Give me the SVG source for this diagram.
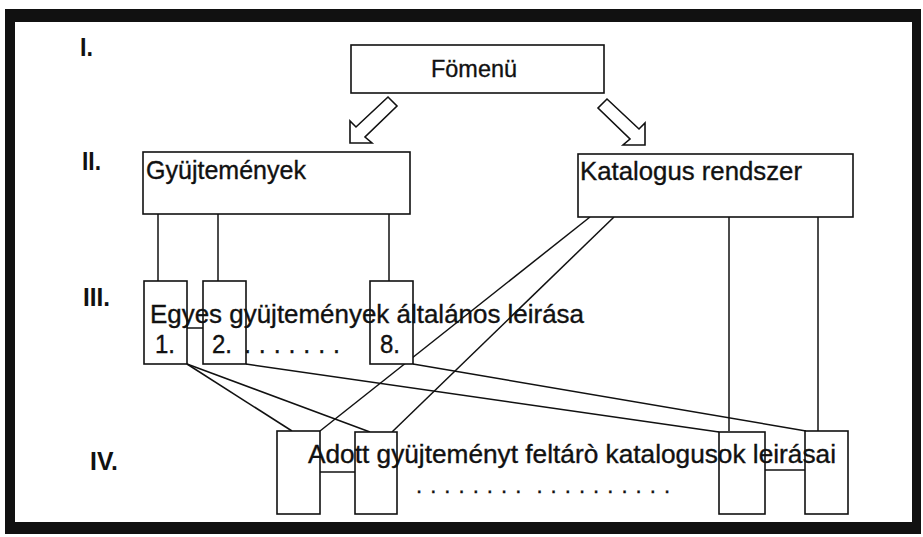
<svg xmlns="http://www.w3.org/2000/svg" width="923" height="537" viewBox="0 0 923 537">
<style>
.box{fill:#fff;stroke:#111;stroke-width:1.6}
.ln{fill:none;stroke:#111;stroke-width:1.5}
.arr{fill:#fff;stroke:#111;stroke-width:1.6;stroke-linejoin:miter}
.t{font-family:"Liberation Sans",Arial,sans-serif;fill:#111;stroke:#111;stroke-width:0.35}
.rn{font-family:"Liberation Sans",Arial,sans-serif;font-weight:bold;font-size:25px;fill:#111}
.pre{white-space:pre}
</style>
<rect width="923" height="537" fill="#fff"/>
<path d="M5,9H921V534H5Z M15,22V522H912V22Z" fill="#111" fill-rule="evenodd"/>
<g id="levels">
<text class="rn" x="80" y="56" textLength="13" lengthAdjust="spacingAndGlyphs">I.</text>
<text class="rn" x="82" y="170" textLength="19" lengthAdjust="spacingAndGlyphs">II.</text>
<text class="rn" x="83" y="306" textLength="27" lengthAdjust="spacingAndGlyphs">III.</text>
<text class="rn" x="90" y="470" textLength="28" lengthAdjust="spacingAndGlyphs">IV.</text>
</g>
<g id="connectors">
<polygon class="arr" points="350,143 350,121 356,127 388,97 397,106 365,137 372,143"/>
<polygon class="arr" points="645,145 645,123 639,129 607,99 598,108 630,139 623,145"/>
<line class="ln" x1="158" y1="214" x2="158" y2="281"/>
<line class="ln" x1="218" y1="214" x2="218" y2="281"/>
<line class="ln" x1="389" y1="214" x2="389" y2="281"/>
<line class="ln" x1="729" y1="217" x2="729" y2="431"/>
<line class="ln" x1="818" y1="217" x2="818" y2="431"/>
<line class="ln" x1="590" y1="217" x2="320" y2="431"/>
<line class="ln" x1="614" y1="217" x2="392" y2="432"/>
<line class="ln" x1="187" y1="364" x2="292" y2="431"/>
<line class="ln" x1="187" y1="364" x2="370" y2="432"/>
<line class="ln" x1="246" y1="364" x2="719" y2="432"/>
<line class="ln" x1="413" y1="364" x2="806" y2="431"/>
<line class="ln" x1="187" y1="328" x2="203" y2="328"/>
<line class="ln" x1="320" y1="472" x2="355" y2="472"/>
<line class="ln" x1="765" y1="470" x2="805" y2="470"/>
</g>
<g id="fomenu">
<rect class="box" x="351" y="45" width="253" height="48"/>
<text class="t" x="431" y="77" font-size="24" textLength="86" lengthAdjust="spacingAndGlyphs">Fömenü</text>
</g>
<g id="gyujtemenyek">
<rect class="box" x="143" y="152" width="267" height="62"/>
<text class="t" x="146" y="179" font-size="25" textLength="160" lengthAdjust="spacingAndGlyphs">Gyüjtemények</text>
</g>
<g id="katalogus">
<rect class="box" x="578" y="154" width="275" height="63"/>
<text class="t" x="580" y="180" font-size="25" textLength="222" lengthAdjust="spacingAndGlyphs">Katalogus rendszer</text>
</g>
<g id="gy1"><rect class="box" x="144" y="281" width="43" height="83"/></g>
<g id="gy2"><rect class="box" x="203" y="281" width="43" height="83"/></g>
<g id="gy8"><rect class="box" x="370" y="281" width="43" height="83"/></g>
<g id="kat1"><rect class="box" x="277" y="431" width="43" height="83"/></g>
<g id="kat2"><rect class="box" x="355" y="432" width="42" height="82"/></g>
<g id="kat3"><rect class="box" x="719" y="432" width="46" height="82"/></g>
<g id="kat4"><rect class="box" x="805" y="431" width="43" height="83"/></g>
<g id="labelIII">
<text class="t" x="150" y="323" font-size="25" textLength="434" lengthAdjust="spacingAndGlyphs">Egyes gyüjtemények általános leirása</text>
<text class="t" x="155" y="353" font-size="25" textLength="20" lengthAdjust="spacingAndGlyphs">1.</text>
<text class="t" x="212" y="353" font-size="25" textLength="20" lengthAdjust="spacingAndGlyphs">2.</text>
<text class="t" x="244" y="353" font-size="25" textLength="96" lengthAdjust="spacing">. . . . . . .</text>
<text class="t" x="380" y="353" font-size="25" textLength="20" lengthAdjust="spacingAndGlyphs">8.</text>
</g>
<g id="labelIV">
<text class="t pre" x="416" y="493" font-size="22" textLength="254" lengthAdjust="spacing" xml:space="preserve">. . . . . . . .  . . . . . . . . . .</text>
<text class="t" x="308" y="463" font-size="25" textLength="528" lengthAdjust="spacingAndGlyphs">Adott gyüjteményt feltárò katalogusok leirásai</text>
</g>
</svg>
